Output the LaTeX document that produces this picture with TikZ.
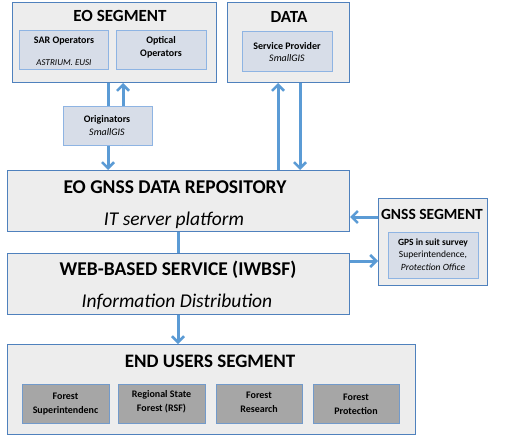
\documentclass[tikz,border=0pt]{standalone}
\usepackage{fontspec}
\setmainfont{Carlito}
\usetikzlibrary{arrows.meta}
\definecolor{boxgray}{HTML}{EDEDED}
\definecolor{bordblue}{HTML}{4F81BD}
\definecolor{innerfill}{HTML}{D7DDE8}
\definecolor{innerbord}{HTML}{8EB4E3}
\definecolor{userfill}{HTML}{A6A6A6}
\definecolor{arrblue}{HTML}{5B9BD5}
\tikzset{
  outerbox/.style={draw=bordblue, fill=boxgray, line width=1pt, inner sep=0pt, anchor=north west},
  innerbox/.style={draw=innerbord, fill=innerfill, line width=1pt, inner sep=0pt, anchor=north west},
  userbox/.style={draw=bordblue!80, fill=userfill, line width=1pt, inner sep=0pt, anchor=north west},
  bigtitle/.style={font=\fontsize{19.5}{22}\selectfont\bfseries, inner sep=0pt},
  midtitle/.style={font=\fontsize{17}{19}\selectfont\bfseries, inner sep=0pt},
  bigital/.style={font=\fontsize{19.5}{22}\selectfont\itshape, inner sep=0pt},
  smallb/.style={font=\fontsize{10}{13}\selectfont\bfseries, inner sep=0pt, align=center},
  smalli/.style={font=\fontsize{10}{12}\selectfont\itshape, inner sep=0pt},
  smalln/.style={font=\fontsize{10}{12}\selectfont, inner sep=0pt},
  conn/.style={draw=arrblue, line width=3pt},
  arr/.style={conn, -{Straight Barb[length=6pt,width=12pt,line width=2.5pt]}},
}
\begin{document}
\begin{tikzpicture}[x=1pt,y=-1pt]
\useasboundingbox (0,0) rectangle (509,436);
% outer boxes
\node[outerbox, minimum width=204pt, minimum height=80pt] (eo) at (12,2) {};
\node[outerbox, minimum width=122pt, minimum height=80pt] (data) at (227,2) {};
\node[outerbox, minimum width=342pt, minimum height=61pt] (rep) at (7,170) {};
\node[outerbox, minimum width=342pt, minimum height=61pt] (web) at (7,253) {};
\node[outerbox, minimum width=109pt, minimum height=87pt] (gnss) at (378,198) {};
\node[outerbox, minimum width=408pt, minimum height=90pt] (users) at (7,344) {};
% x positions of connectors
\coordinate (xa) at (108,0);
\coordinate (xb) at (123,0);
\coordinate (xc) at (278,0);
\coordinate (xd) at (300,0);
\coordinate (xe) at (178,0);
\coordinate (ya) at (0,217);
\coordinate (yb) at (0,261);
% inner boxes
\node[innerbox, minimum width=89pt, minimum height=39pt] (sar) at (19,30) {};
\node[innerbox, minimum width=90pt, minimum height=39pt] (opt) at (116,30) {};
\node[innerbox, minimum width=90pt, minimum height=40pt] (serv) at (242,31) {};
\node[innerbox, minimum width=90pt, minimum height=46pt] (gps) at (388,232) {};
\node[userbox, minimum width=87pt, minimum height=39pt] (u1) at (22,384) {};
\node[userbox, minimum width=87pt, minimum height=39pt] (u2) at (118,384) {};
\node[userbox, minimum width=86pt, minimum height=39pt] (u3) at (216,384) {};
\node[userbox, minimum width=86pt, minimum height=39pt] (u4) at (313,384) {};
% connectors
\draw[arr] (eo.south -| xa) -- (rep.north -| xa);
\coordinate (origbot) at (123,146);
\draw[arr] (origbot) -- (eo.south -| xb);
\draw[arr] (rep.north -| xc) -- (data.south -| xc);
\draw[arr] (data.south -| xd) -- (rep.north -| xd);
\draw[conn] (rep.south -| xe) -- (web.north -| xe);
\draw[arr] (web.south -| xe) -- (users.north -| xe);
\draw[arr] (gnss.west |- ya) -- (rep.east |- ya);
\draw[arr] (web.east |- yb) -- (gnss.west |- yb);
% originators box on top
\node[innerbox, minimum width=89pt, minimum height=39pt] (orig) at (63,106) {};
% texts
\node[midtitle] (t1) at (120,16) {EO SEGMENT};
\node[smallb] (t2) at (64,41) {SAR Operators};
\begin{scope}
\clip (19,30) rectangle (108,65);
\node[smalli, font=\fontsize{9}{10}\selectfont\itshape] (t3) at (64,63) {ASTRIUM, EUSI};
\end{scope}
\node[smallb] (t4) at (161,47.5) {Optical\\Operators};
\node[midtitle] (t5) at (289,17) {DATA};
\node[smallb] (t6) at (287,46) {Service Provider};
\node[smalli] (t7) at (287,58) {SmallGIS};
\node[smallb] (t8) at (107,120) {Originators};
\node[smalli] (t9) at (107,132) {SmallGIS};
\node[bigtitle] (t10) at (175,187) {EO GNSS DATA REPOSITORY};
\node[bigital] (t11) at (174,220) {IT server platform};
\node[bigtitle] (t12) at (178,270) {WEB-BASED SERVICE (IWBSF)};
\node[bigital] (t13) at (177,302) {Information Distribution};
\node[midtitle, font=\fontsize{15.5}{17}\selectfont\bfseries] (t14) at (432,214) {GNSS SEGMENT};
\node[smallb, font=\fontsize{9.5}{11}\selectfont\bfseries] (t15) at (433,243) {GPS in suit survey};
\node[smalln, font=\fontsize{9.5}{11}\selectfont] (t16) at (433,255) {Superintendence,};
\node[smalli, font=\fontsize{9.5}{11}\selectfont\itshape] (t17) at (433,267) {Protection Office};
\node[bigtitle, font=\fontsize{19}{21}\selectfont\bfseries] (t18) at (210,361) {END USERS SEGMENT};
\node[smallb, font=\fontsize{10}{14}\selectfont\bfseries] (t19) at (65.5,404) {Forest\\Superintendenc};
\node[smallb, font=\fontsize{10}{14}\selectfont\bfseries] (t20) at (161.5,402) {Regional State\\Forest (RSF)};
\node[smallb, font=\fontsize{10}{14}\selectfont\bfseries] (t21) at (259,402) {Forest\\Research};
\node[smallb, font=\fontsize{10}{14}\selectfont\bfseries] (t22) at (356,404) {Forest\\Protection};
\end{tikzpicture}
\end{document}
